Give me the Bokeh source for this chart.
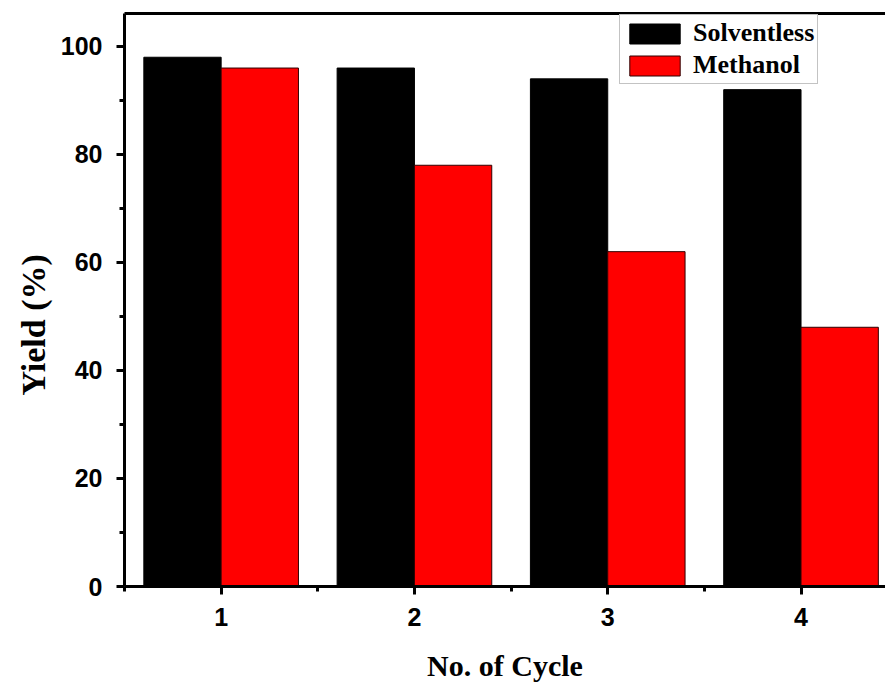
from bokeh.plotting import figure
from bokeh.models import ColumnDataSource, Range1d, LinearAxis, FixedTicker, Legend, LegendItem, Title
from bokeh.transform import dodge
from bokeh.embed import file_html
from bokeh.resources import INLINE

cycles = [1, 2, 3, 4]
solventless = [98, 96, 94, 92]
methanol = [96, 78, 62, 48]
x_ticks = [1, 2, 3, 4]
y_ticks = [0, 20, 40, 60, 80, 100]

src = ColumnDataSource(dict(x=cycles, s=solventless, m=methanol))

p = figure(width=885, height=687, output_backend="svg", toolbar_location=None,
           x_range=Range1d(0.5, 4.437), y_range=Range1d(0, 106.1),
           min_border_left=124, min_border_right=0, min_border_top=13, min_border_bottom=101)
p.outline_line_color = None
p.xgrid.visible = False
p.ygrid.visible = False

r1 = p.vbar(x=dodge('x', -0.2, range=p.x_range), top='s', width=0.4, source=src,
            fill_color="black", line_color="black", line_width=1)
r2 = p.vbar(x=dodge('x', 0.2, range=p.x_range), top='m', width=0.4, source=src,
            fill_color="#ff0000", line_color="#300000", line_width=1)

for ax in (p.xaxis[0], p.yaxis[0]):
    ax.axis_line_width = 3
    ax.major_tick_line_width = 3
    ax.minor_tick_line_width = 3
    ax.major_tick_out = 8
    ax.major_tick_in = 0
    ax.minor_tick_out = 5
    ax.minor_tick_in = 0
    ax.major_label_text_font = "Liberation Sans"
    ax.major_label_text_font_style = "bold"
    ax.major_label_text_font_size = "25px"
    ax.major_label_text_color = "black"
    ax.axis_label_text_font = "Liberation Serif"
    ax.axis_label_text_font_style = "bold"
    ax.axis_label_text_color = "black"

p.xaxis[0].axis_label_text_font_size = "30px"
p.xaxis[0].ticker = FixedTicker(ticks=x_ticks, minor_ticks=[0.5, 1.5, 2.5, 3.5])
p.yaxis[0].ticker = FixedTicker(ticks=y_ticks, minor_ticks=[10, 30, 50, 70, 90])
p.xaxis[0].axis_label = "No. of Cycle"
p.xaxis[0].major_label_standoff = 13
p.yaxis[0].major_label_standoff = 14
p.xaxis[0].axis_label_standoff = 20

ylab = Title(text="Yield (%)", align="left", offset=191, standoff=12,
             text_font="Liberation Serif", text_font_style="bold",
             text_font_size="34px", text_color="black")
p.add_layout(ylab, "left")

top = LinearAxis(ticker=FixedTicker(ticks=[]), major_label_text_font_size="0px",
                 axis_line_width=3, major_tick_line_color=None, minor_tick_line_color=None)
p.add_layout(top, "above")

legend = Legend(items=[LegendItem(label="Solventless", renderers=[r1]),
                       LegendItem(label="Methanol", renderers=[r2])],
                location=(495, 502))
legend.glyph_width = 63
legend.glyph_height = 25
legend.label_height = 25
legend.label_text_font = "Liberation Serif"
legend.label_text_font_style = "bold"
legend.label_text_font_size = "26px"
legend.label_text_color = "black"
legend.border_line_color = "#888888"
legend.border_line_width = 1
legend.padding = 3
legend.spacing = 2
legend.margin = 0
legend.label_standoff = 7
p.add_layout(legend, "center")

open("out.html", "w").write(file_html(p, INLINE))
